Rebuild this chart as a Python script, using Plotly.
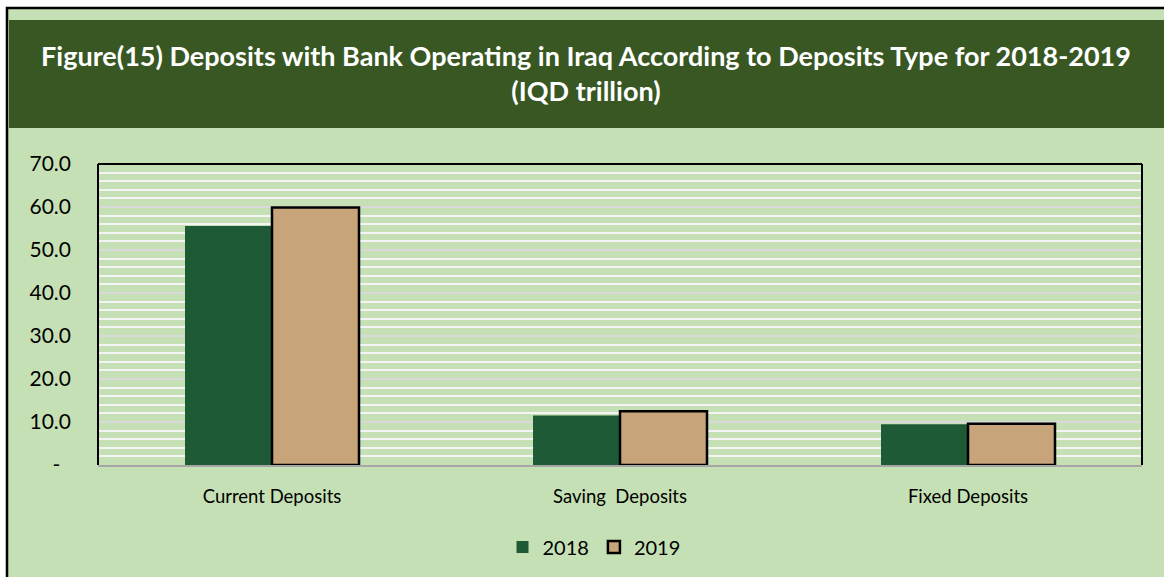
import plotly.graph_objects as go

# Deposit categories and yearly values (IQD trillion)
categories = ["Current Deposits", "Saving  Deposits", "Fixed Deposits"]
deposits_2018 = [55.6, 11.5, 9.5]
deposits_2019 = [59.9, 12.5, 9.6]
years = ["2018", "2019"]

y_ticks = [0, 10, 20, 30, 40, 50, 60, 70]
y_tick_labels = ["-\u00a0\u00a0", "10.0", "20.0", "30.0", "40.0", "50.0", "60.0", "70.0"]

W, H = 1164, 577
L, R, T, B = 98, 22, 164, 112
pw, ph = W - L - R, H - T - B


def px(x):
    return (x - L) / pw


def py(y):
    return (H - B - y) / ph


FONT = "Lato"

fig = go.Figure()
fig.add_trace(go.Bar(
    x=categories, y=deposits_2018, name=years[0],
    marker=dict(color="#1F5A36", line=dict(width=0)),
))
fig.add_trace(go.Bar(
    x=categories, y=deposits_2019, name=years[1],
    marker=dict(color="#C7A479", line=dict(color="#000000", width=2.5)),
))

shapes = [
    # chart frame with light green fill
    dict(type="rect", xref="paper", yref="paper", x0=px(7), x1=px(1180), y0=py(8), y1=py(600),
         line=dict(color="#000000", width=2.5), fillcolor="#C5E0B4", layer="below"),
    # title band
    dict(type="rect", xref="paper", yref="paper", x0=px(9), x1=px(1180), y0=py(20), y1=py(128),
         line=dict(width=0), fillcolor="#385723", layer="below"),
    # plot area border (top, left, right)
    dict(type="line", xref="paper", yref="paper", x0=0, x1=1, y0=1, y1=1,
         line=dict(color="#000000", width=2)),
    dict(type="line", xref="paper", yref="paper", x0=0, x1=0, y0=0, y1=1,
         line=dict(color="#000000", width=2)),
    dict(type="line", xref="paper", yref="paper", x0=1, x1=1, y0=0, y1=1,
         line=dict(color="#000000", width=2)),
]

fig.update_layout(
    width=W, height=H,
    margin=dict(l=L, r=R, t=T, b=B, autoexpand=False),
    paper_bgcolor="#FFFFFF",
    plot_bgcolor="#E2F0D9",
    barmode="group", bargap=0.5, bargroupgap=0,
    font=dict(family=FONT, size=18, color="#000000"),
    title=dict(
        text="<b>Figure(15) Deposits with Bank Operating in Iraq According to Deposits Type for 2018-2019<br>(IQD trillion)</b>",
        x=586 / W, xanchor="center", xref="container",
        y=1 - 66 / H, yanchor="middle", yref="container",
        font=dict(family=FONT, size=27, color="#FFFFFF"),
    ),
    shapes=shapes,
    showlegend=True,
    legend=dict(
        orientation="h", x=px(582) + 0.0115, xanchor="center", xref="paper",
        y=py(547), yanchor="middle", yref="paper",
        font=dict(family=FONT, size=20), bgcolor="rgba(0,0,0,0)",
        itemwidth=30, traceorder="normal",
    ),
    xaxis=dict(
        showline=True, linecolor="#A6A6A6", linewidth=2,
        ticks="", showgrid=False, ticklabelstandoff=14,
        tickfont=dict(family=FONT, size=18.5),
    ),
    yaxis=dict(
        range=[0, 70], tickvals=y_ticks, ticktext=y_tick_labels,
        showgrid=True, gridcolor="#D9D9D9", gridwidth=1.5,
        zeroline=False, ticks="", ticklabelstandoff=26,
        tickfont=dict(family=FONT, size=21),
        minor=dict(dtick=2, showgrid=True, gridcolor="#F4F4F4", gridwidth=1.5),
    ),
)

fig.write_html("out.html")
